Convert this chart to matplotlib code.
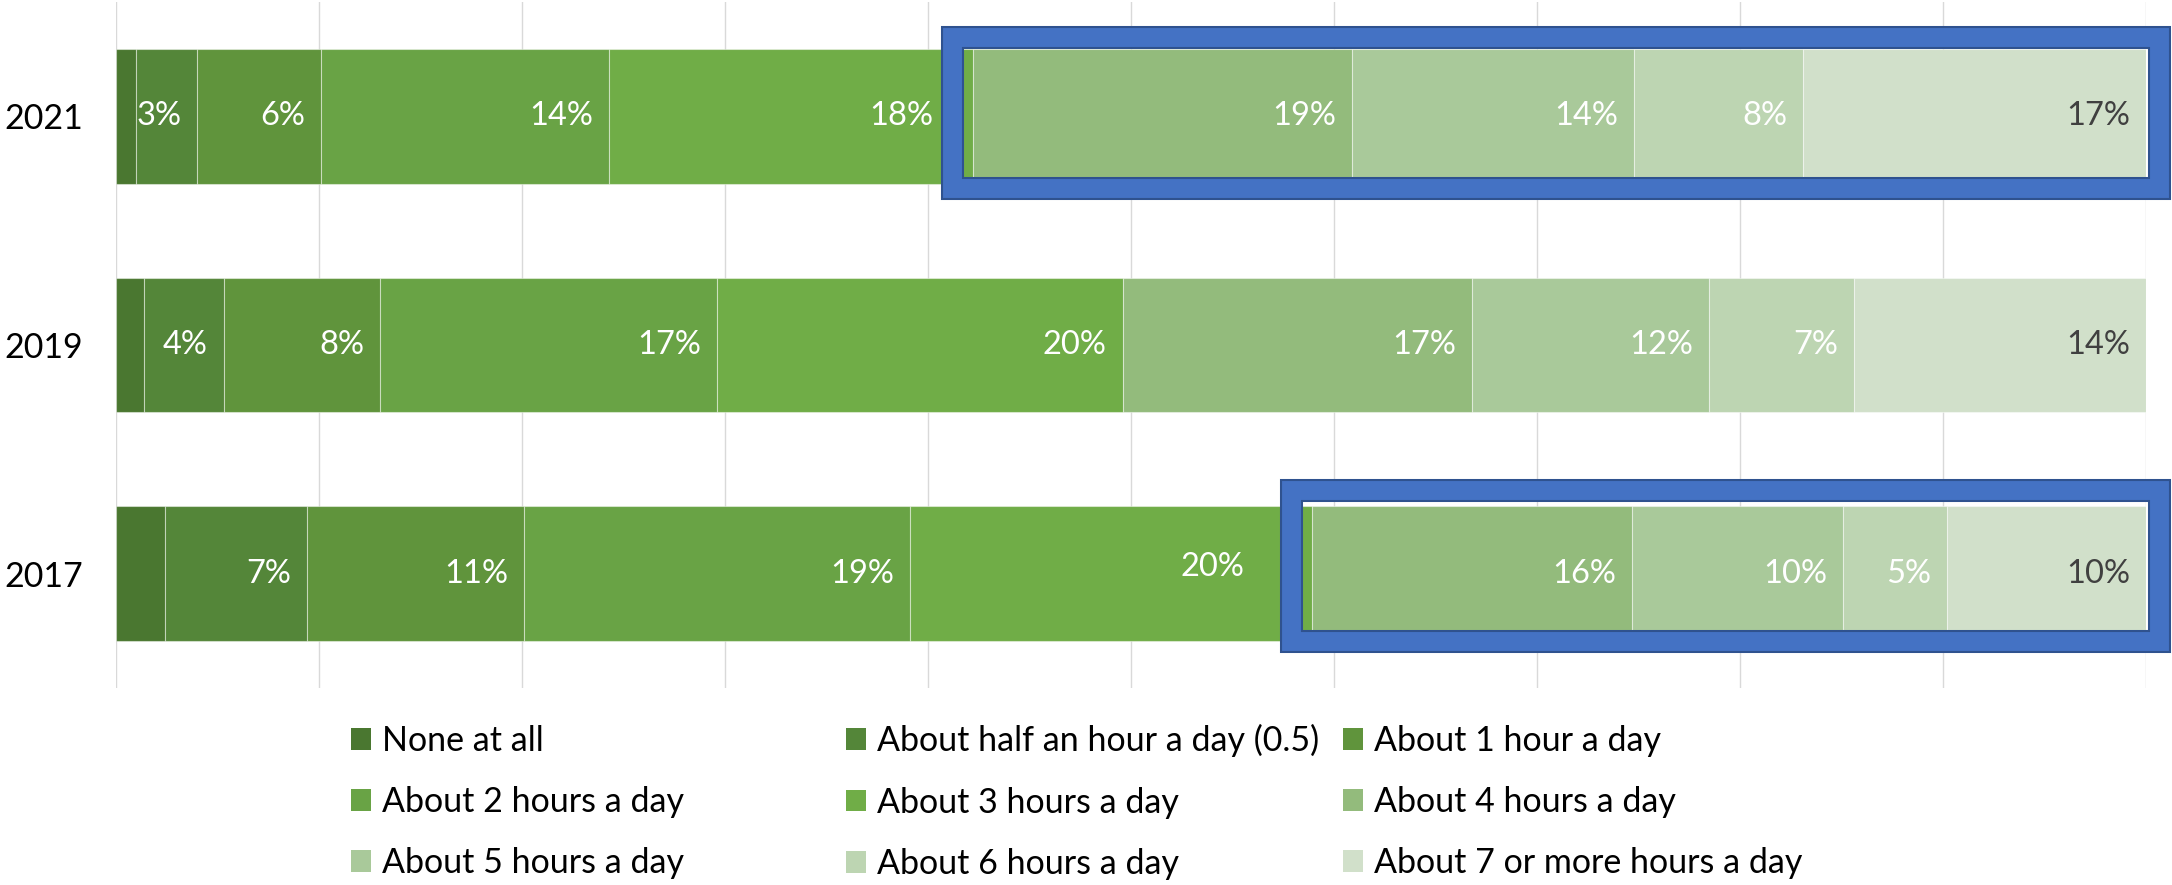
import numpy as np
import matplotlib.pyplot as plt
from matplotlib.patches import Patch, Rectangle

plt.rcParams['font.family'] = ['Lato', 'DejaVu Sans']

# Daily hours of use, share of respondents (%) by survey year
years = ['2021', '2019', '2017']
categories = [
    'None at all',
    'About half an hour a day (0.5)',
    'About 1 hour a day',
    'About 2 hours a day',
    'About 3 hours a day',
    'About 4 hours a day',
    'About 5 hours a day',
    'About 6 hours a day',
    'About 7 or more hours a day',
]
share_2021 = [1.0, 3.0, 6.1, 14.2, 17.9, 18.7, 13.9, 8.3, 16.9]
share_2019 = [1.4, 3.9, 7.7, 16.6, 20.0, 17.2, 11.7, 7.1, 14.4]
share_2017 = [2.4, 7.0, 10.7, 19.0, 19.8, 15.8, 10.4, 5.1, 9.8]

colors = ['#4A7730', '#548639', '#60943C', '#69A345', '#70AD47',
          '#93BB7C', '#A9C99A', '#BDD5B2', '#D1E0CA']

# hand-moved labels next to the highlight boxes (offset in points)
nudges = {('2021', 4): (-17, 0), ('2017', 4): (-37, 4.5)}

# years whose 4+ hours block gets a highlight frame, with a small vertical shift
highlight = [('2021', -0.015), ('2017', -0.035)]

data = np.array([share_2021, share_2019, share_2017])
ypos = np.arange(len(years))

fig = plt.figure(figsize=(21.72, 8.85), dpi=100)
ax = fig.add_axes([0.0534, 0.2226, 0.9346, 0.7751])

left = np.zeros(len(years))
for i, (cat, col) in enumerate(zip(categories, colors)):
    vals = data[:, i]
    ax.barh(ypos, vals, left=left, height=0.59, color=col,
            edgecolor=(1, 1, 1, 0.45), linewidth=0.8, label=cat, zorder=2)
    if i > 0:
        txt_color = '#404040' if i == len(categories) - 1 else 'white'
        for j, v in enumerate(vals):
            dx, dy = nudges.get((years[j], i), (0, 0))
            ax.annotate(f'{v:.0f}%', xy=(left[j] + v, ypos[j]),
                        xytext=(-11.5 + dx, dy), textcoords='offset points',
                        ha='right', va='center', color=txt_color,
                        fontsize=23.5, zorder=3)
    left += vals

ax.set_xlim(0, 100)
ax.set_ylim(2.5, -0.5)
ax.set_xticks(np.arange(0, 101, 10))
ax.set_xticklabels([])
ax.set_yticks(ypos, years, fontsize=24.5)
ax.grid(axis='x', color='#D9D9D9', linewidth=1)
ax.set_axisbelow(True)
ax.tick_params(length=0, pad=24)
for s in ax.spines.values():
    s.set_visible(False)

# blue frames around the 4+ hours share
for year, shift in highlight:
    j = years.index(year)
    x0 = data[j, :5].sum() - 1.0
    x1 = 100.65
    yc = ypos[j] + shift
    for ec, lw in [('#2F528F', 16.6), ('#4472C4', 13.6)]:
        ax.add_patch(Rectangle((x0, yc - 0.33), x1 - x0, 0.66, fill=False,
                               edgecolor=ec, linewidth=lw, joinstyle='miter',
                               clip_on=False, zorder=5))

# legend laid out as three fixed-position columns, filled row by row
handles = [Patch(facecolor=c) for c in colors]
col_x = [0.1616, 0.3895, 0.6183]
for k in range(3):
    idx = [k, k + 3, k + 6]
    fig.legend([handles[i] for i in idx], [categories[i] for i in idx],
               loc='center left', bbox_to_anchor=(col_x[k], 0.0938),
               frameon=False, fontsize=24.5, handlelength=0.6,
               handleheight=0.6, handletextpad=0.3, labelspacing=0.86,
               borderpad=0, borderaxespad=0)

fig.savefig('out.png', dpi=100)
